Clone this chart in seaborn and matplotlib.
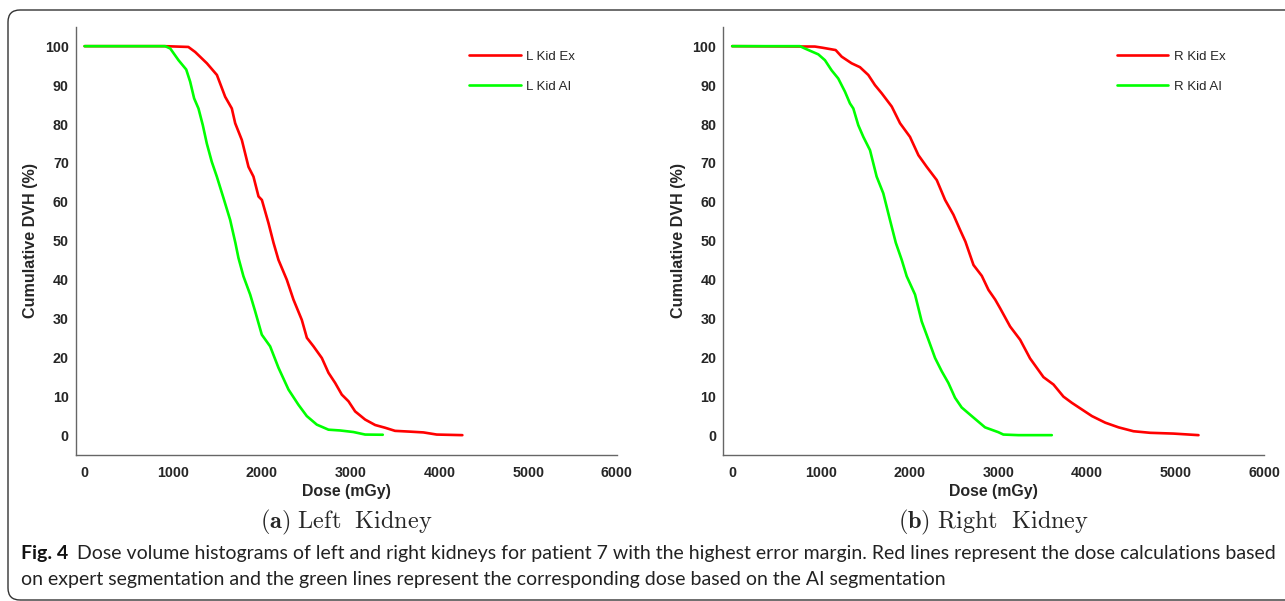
import numpy as np
import pandas as pd
import seaborn as sns
import matplotlib
matplotlib.use('Agg')
import matplotlib.pyplot as plt
from matplotlib.patches import FancyBboxPatch
from matplotlib.transforms import IdentityTransform

# left kidney - expert segmentation
l_ex_dose = [0, 900, 1170, 1247, 1379, 1492, 1585, 1660, 1698, 1773, 1848, 1904, 1961, 1999,
             2074, 2130, 2186, 2280, 2355, 2449, 2506, 2581, 2675, 2750, 2825, 2900, 2975,
             3050, 3163, 3276, 3388, 3500, 3669, 3820, 3970, 4259]
l_ex_dvh = [100, 100, 99.8, 98.5, 95.6, 92.6, 87, 84, 80.2, 75.9, 69, 66.5, 61.4, 60.5,
            54.5, 49.5, 45.1, 40, 34.9, 29.7, 25.1, 22.9, 19.9, 16.1, 13.5, 10.5, 8.8,
            6.2, 4.1, 2.7, 2.0, 1.2, 1.0, 0.8, 0.25, 0.1]

# left kidney - AI segmentation
l_ai_dose = [0, 909, 966, 1059, 1146, 1190, 1235, 1284, 1333, 1378, 1434, 1491, 1566, 1641,
             1700, 1735, 1791, 1867, 1923, 1998, 2092, 2186, 2299, 2411, 2505, 2618, 2750,
             2881, 3031, 3163, 3362]
l_ai_dvh = [100, 100, 99.4, 96.4, 94, 90.9, 86.6, 84, 79.7, 75, 70.3, 66.5, 61, 55.4,
            49.5, 45.6, 40.9, 36.2, 31.9, 25.9, 22.9, 17.4, 11.8, 7.9, 5, 2.8, 1.5,
            1.3, 0.9, 0.25, 0.2]

# right kidney - expert segmentation
r_ex_dose = [0, 933, 1018, 1167, 1235, 1347, 1441, 1535, 1610, 1686, 1799, 1893, 2005, 2100,
             2194, 2307, 2401, 2495, 2570, 2630, 2721, 2815, 2890, 2966, 3021, 3134, 3247,
             3359, 3510, 3623, 3735, 3830, 3943, 4056, 4207, 4357, 4525, 4713, 4976, 5258]
r_ex_dvh = [100, 99.9, 99.6, 99, 97.3, 95.6, 94.6, 92.6, 90, 87.9, 84.5, 80.2, 76.7, 72,
            69, 65.6, 60.5, 56.7, 52.8, 49.8, 43.8, 41, 37.4, 34.9, 32.7, 28, 24.6,
            19.8, 15, 13.1, 10, 8.4, 6.7, 5, 3.3, 2.1, 1.1, 0.7, 0.5, 0.1]

# right kidney - AI segmentation
r_ai_dose = [0, 764, 820, 971, 1046, 1121, 1196, 1272, 1328, 1366, 1422, 1479, 1554, 1629,
             1704, 1779, 1845, 1912, 1968, 2062, 2137, 2213, 2288, 2363, 2438, 2513, 2588,
             2701, 2851, 3002, 3058, 3228, 3604]
r_ai_dvh = [100, 100, 99.4, 97.9, 96.4, 93.8, 91.7, 88.3, 85.3, 84, 79.7, 76.7, 73.3, 66.5,
            62.2, 55.4, 49.5, 45.1, 40.9, 36.2, 29.3, 24.6, 19.9, 16.5, 13.5, 9.7, 7.2,
            5, 2.1, 0.85, 0.25, 0.1, 0.1]

x_ticks = [0, 1000, 2000, 3000, 4000, 5000, 6000]
y_ticks = [0, 10, 20, 30, 40, 50, 60, 70, 80, 90, 100]

cap_line1 = ('Dose volume histograms of left and right kidneys for patient 7 with the highest '
             'error margin. Red lines represent the dose calculations based')
cap_line2 = ('on expert segmentation and the green lines represent the corresponding dose '
             'based on the AI segmentation')

sns.set_style('white')
plt.rcParams['font.family'] = ['Liberation Sans', 'DejaVu Sans']
plt.rcParams['mathtext.fontset'] = 'cm'

fig = plt.figure(figsize=(12.85, 6.01), dpi=100)
W, H = 1285, 601

panels = [
    (75.7, 616.8, 'L', l_ex_dose, l_ex_dvh, l_ai_dose, l_ai_dvh, r'$\mathbf{(a)}\ \mathrm{Left\ \ Kidney}$'),
    (723.3, 1264.3, 'R', r_ex_dose, r_ex_dvh, r_ai_dose, r_ai_dvh, r'$\mathbf{(b)}\ \mathrm{Right\ \ Kidney}$'),
]
ax_top, ax_bot = 26.7, 455

for left, right, side, ex_d, ex_v, ai_d, ai_v, sub in panels:
    ax = fig.add_axes([left / W, 1 - ax_bot / H, (right - left) / W, (ax_bot - ax_top) / H])
    df = pd.concat([
        pd.DataFrame({'dose': ex_d, 'dvh': ex_v, 'curve': side + ' Kid Ex'}),
        pd.DataFrame({'dose': ai_d, 'dvh': ai_v, 'curve': side + ' Kid AI'}),
    ])
    sns.lineplot(data=df, x='dose', y='dvh', hue='curve', sort=False, estimator=None,
                 palette=['#ff0000', '#00ff00'], linewidth=1.9, ax=ax)
    ax.set_xlim(-100, 6000)
    ax.set_ylim(-5, 105)
    ax.set_xticks(x_ticks)
    ax.set_yticks(y_ticks)
    for lab in ax.get_xticklabels() + ax.get_yticklabels():
        lab.set_fontweight('bold')
        lab.set_fontsize(10.3)
    ax.tick_params(direction='in', length=4, width=0.8, color='#666666')
    ax.tick_params(axis='x', pad=8)
    ax.tick_params(axis='y', pad=5)
    for s in ['top', 'right']:
        ax.spines[s].set_visible(False)
    for s in ['left', 'bottom']:
        ax.spines[s].set_color('#666666')
        ax.spines[s].set_linewidth(1.0)
    ax.set_xlabel('Dose (mGy)', fontsize=11.4, fontweight='bold', labelpad=3)
    ax.set_ylabel('Cumulative DVH (%)', fontsize=11.6, fontweight='bold', labelpad=5)
    leg = ax.legend(loc='upper left', bbox_to_anchor=(0.705, 0.972), frameon=False,
                    fontsize=9.5, handlelength=3.9, handletextpad=0.45, labelspacing=1.35)
    for h in leg.get_lines():
        h.set_linewidth(1.9)
    fig.text((left + right) / 2 / W, 1 - 522 / H, sub, ha='center', va='center', fontsize=17.5)

# caption
renderer = fig.canvas.get_renderer()
fig_lab = fig.text(21 / W, 1 - 553 / H, 'Fig. 4', ha='left', va='center', fontsize=14,
                   fontweight='bold', family=['Lato', 'DejaVu Sans'], color='#111111')
x_after = fig_lab.get_window_extent(renderer).x1 + 9
t1 = fig.text(x_after / W, 1 - 553 / H, cap_line1, ha='left', va='center', fontsize=14,
              family=['Lato', 'DejaVu Sans'], color='#222222')
w1 = t1.get_window_extent(renderer).width
fs = 14 * (1277 - x_after) / w1
t1.set_fontsize(fs)
fig.text(21 / W, 1 - 580 / H, cap_line2, ha='left', va='center', fontsize=fs,
         family=['Lato', 'DejaVu Sans'], color='#222222')

box = FancyBboxPatch((8, 1), 1310, 590, boxstyle='round,pad=0,rounding_size=12',
                     transform=IdentityTransform(), fill=False, edgecolor='#333333', linewidth=1.0)
fig.patches.append(box)

fig.savefig('out.png', dpi=100)
